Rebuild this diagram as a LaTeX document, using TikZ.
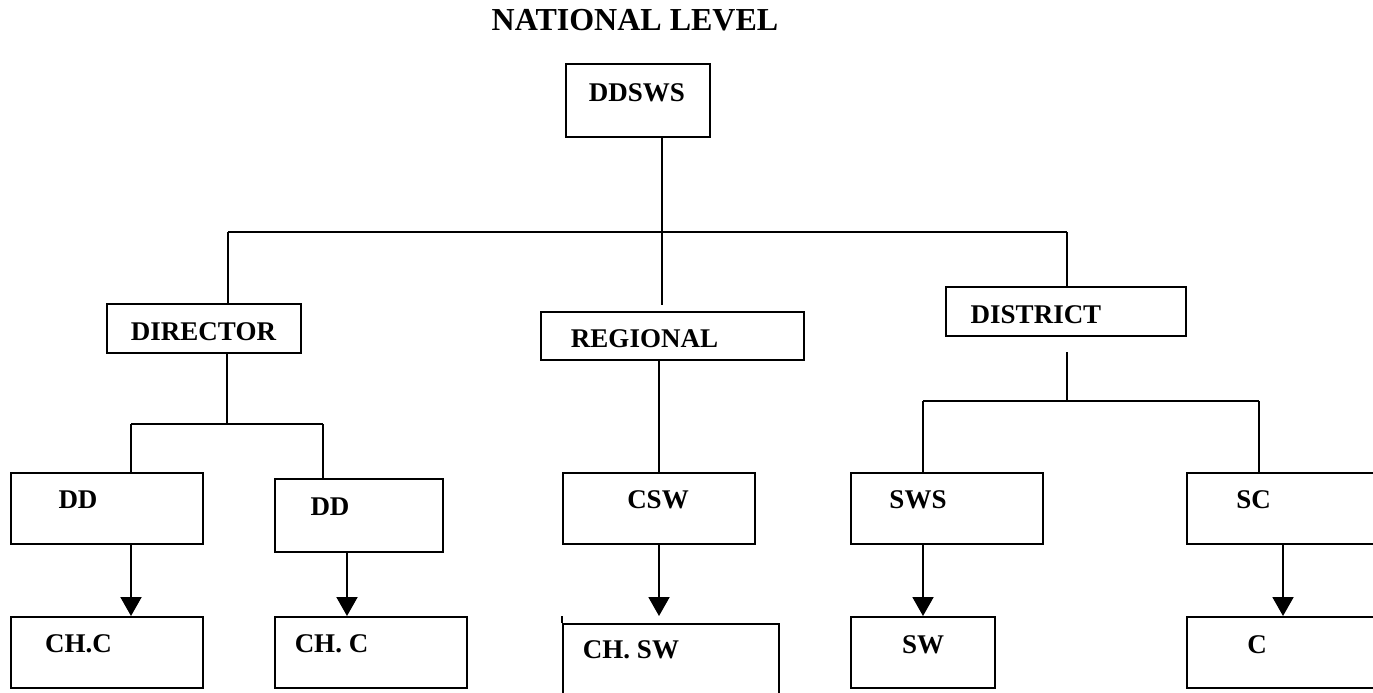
\documentclass[tikz,border=0pt]{standalone}
\usepackage{fontspec}
\setmainfont{Liberation Serif}
\usetikzlibrary{arrows.meta}
\begin{document}
\begin{tikzpicture}[x=1pt,y=-1pt,
  box/.style={draw=black,line width=2pt,rectangle,inner sep=0pt},
  lbl/.style={inner sep=0pt,font=\fontsize{27}{32}\selectfont\bfseries},
  ttl/.style={inner sep=0pt,font=\fontsize{32}{38}\selectfont\bfseries},
  conn/.style={line width=2pt},
  arr/.style={line width=2pt,-{Triangle[width=21pt,length=19pt]}}]
\clip (0,0) rectangle (1373,693);
\fill[white] (0,0) rectangle (1373,693);
% title
\node[ttl] (title) at (635,20) {NATIONAL LEVEL};
% boxes
\node[box,minimum width=144pt,minimum height=73pt] (ddsws) at (638,100.5) {};
\node[box,minimum width=194pt,minimum height=49pt] (director) at (204,328.5) {};
\node[box,minimum width=263pt,minimum height=48pt] (regional) at (672.5,336) {};
\node[box,minimum width=240pt,minimum height=49pt] (district) at (1066,311.5) {};
\node[box,minimum width=192pt,minimum height=71pt] (dd1) at (107,508.5) {};
\node[box,minimum width=168pt,minimum height=73pt] (dd2) at (359,515.5) {};
\node[box,minimum width=192pt,minimum height=71pt] (csw) at (659,508.5) {};
\node[box,minimum width=192pt,minimum height=71pt] (sws) at (947,508.5) {};
\node[box,minimum width=203pt,minimum height=71pt] (sc) at (1288.5,508.5) {};
\node[box,minimum width=192pt,minimum height=71pt] (chc1) at (107,652.5) {};
\node[box,minimum width=192pt,minimum height=71pt] (chc2) at (371,652.5) {};
\node[box,minimum width=216pt,minimum height=86pt] (chsw) at (671,667) {};
\node[box,minimum width=144pt,minimum height=71pt] (sw) at (923,652.5) {};
\node[box,minimum width=203pt,minimum height=71pt] (c) at (1288.5,652.5) {};
% labels
\node[lbl] (tddsws) at (637,93) {DDSWS};
\node[lbl] (tdirector) at (203.5,332) {DIRECTOR};
\node[lbl] (tregional) at (644.5,339) {REGIONAL};
\node[lbl] (tdistrict) at (1036,315) {DISTRICT};
\node[lbl] (tdd1) at (78,500) {DD};
\node[lbl] (tdd2) at (330,507) {DD};
\node[lbl] (tcsw) at (658,500) {CSW};
\node[lbl] (tsws) at (918,500) {SWS};
\node[lbl] (tsc) at (1253.5,500) {SC};
\node[lbl] (tchc1) at (78.5,644) {CH.C};
\node[lbl] (tchc2) at (331.5,644) {CH. C};
\node[lbl] (tchsw) at (631,650) {CH. SW};
\node[lbl] (tsw) at (923,645) {SW};
\node[lbl] (tc) at (1257,645) {C};
% junction coordinates
\coordinate (j1) at (662,232);
\coordinate (jl) at (228,232);
\coordinate (jr) at (1067,232);
\coordinate (jm) at (662,305);
\coordinate (k1) at (227,424);
\coordinate (kl) at (131,424);
\coordinate (kr) at (323,424);
\coordinate (m0) at (1067,352);
\coordinate (m1) at (1067,401);
\coordinate (ml) at (923,401);
\coordinate (mr) at (1259,401);
% top level connectors
\draw[conn] (ddsws.south -| j1) -- (j1);
\draw[conn] (jl) -- (jr);
\draw[conn] (jl) -- (jl |- director.north);
\draw[conn] (j1) -- (jm);
\draw[conn] (jr) -- (jr |- district.north);
% director branch
\draw[conn] (director.south -| k1) -- (k1);
\draw[conn] (kl) -- (kr);
\draw[conn] (kl) -- (kl |- dd1.north);
\draw[conn] (kr) -- (kr |- dd2.north);
% regional branch
\draw[conn] (regional.south -| csw.north) -- (csw.north);
% district branch
\draw[conn] (m0) -- (m1);
\draw[conn] (ml) -- (mr);
\draw[conn] (ml) -- (ml |- sws.north);
\draw[conn] (mr) -- (mr |- sc.north);
% arrows
\draw[arr] ([xshift=24pt]dd1.south) -- ([xshift=24pt]dd1.south |- chc1.north);
\draw[arr] ([xshift=-12pt]dd2.south) -- ([xshift=-12pt]dd2.south |- chc2.north);
\draw[arr] (csw.south) -- (csw.south |- chc1.north);
\draw[arr] ([xshift=-24pt]sws.south) -- ([xshift=-24pt]sws.south |- sw.north);
\draw[arr] ([xshift=-5.5pt]sc.south) -- ([xshift=-5.5pt]sc.south |- c.north);
% stub on CH. SW box
\draw[conn] (chsw.north west) -- ++(0,-7);
\end{tikzpicture}
\end{document}
